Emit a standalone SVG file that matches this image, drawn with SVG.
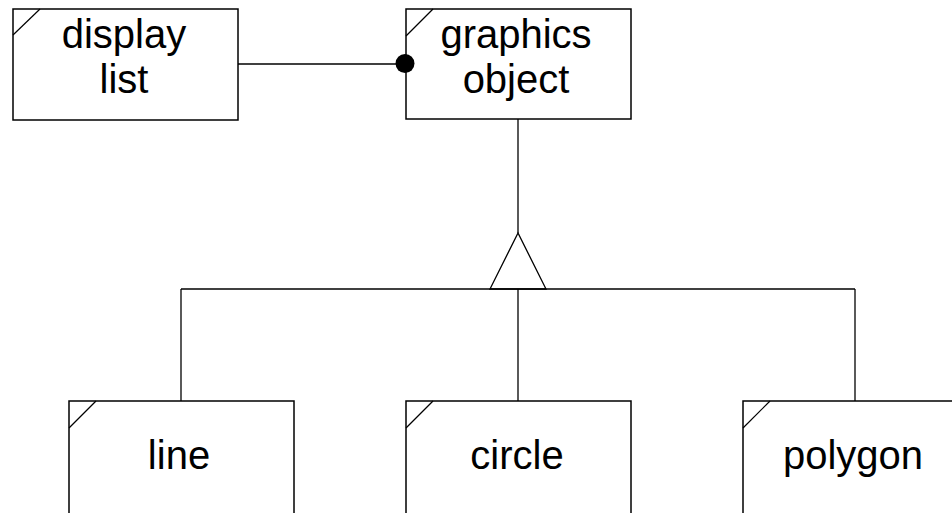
<svg xmlns="http://www.w3.org/2000/svg" width="952" height="513" viewBox="0 0 952 513">
<style>
.box{fill:#fff;stroke:#000;stroke-width:1.5}
.diag{stroke:#000;stroke-width:1.2}
.lbl{font-family:"Liberation Sans",Arial,sans-serif;font-size:40px;fill:#000;text-anchor:middle}
.conn{stroke:#000;stroke-width:1.3;fill:none}
</style>
<rect width="952" height="513" fill="#fff"/>
<g id="display-list">
<rect class="box" x="13" y="9" width="225" height="111"/>
<line class="diag" x1="13" y1="35" x2="40" y2="9"/>
<text class="lbl" x="124" y="48">display</text>
<text class="lbl" x="124" y="93">list</text>
</g>
<g id="graphics-object">
<rect class="box" x="406" y="9" width="225" height="110"/>
<line class="diag" x1="406" y1="36" x2="433" y2="9"/>
<text class="lbl" x="516" y="48">graphics</text>
<text class="lbl" x="516" y="93">object</text>
</g>
<g id="line">
<rect class="box" x="69" y="401" width="225" height="130"/>
<line class="diag" x1="69" y1="428" x2="96" y2="401"/>
<text class="lbl" x="179" y="469">line</text>
</g>
<g id="circle">
<rect class="box" x="406" y="401" width="225" height="130"/>
<line class="diag" x1="406" y1="428" x2="433" y2="401"/>
<text class="lbl" x="517" y="469">circle</text>
</g>
<g id="polygon">
<rect class="box" x="743" y="401" width="225" height="130"/>
<line class="diag" x1="743" y1="428" x2="770" y2="401"/>
<text class="lbl" x="853" y="469">polygon</text>
</g>
<g id="connectors">
<line class="conn" x1="238" y1="64" x2="405" y2="64"/>
<circle cx="405" cy="63.5" r="9.5" fill="#000"/>
<line class="conn" x1="518" y1="119" x2="518" y2="233"/>
<polygon class="conn" points="518,233 490,289 546,289" fill="#fff"/>
<line class="conn" x1="181" y1="289" x2="855" y2="289"/>
<line class="conn" x1="181" y1="289" x2="181" y2="401"/>
<line class="conn" x1="518" y1="289" x2="518" y2="401"/>
<line class="conn" x1="855" y1="289" x2="855" y2="401"/>
</g>
</svg>
